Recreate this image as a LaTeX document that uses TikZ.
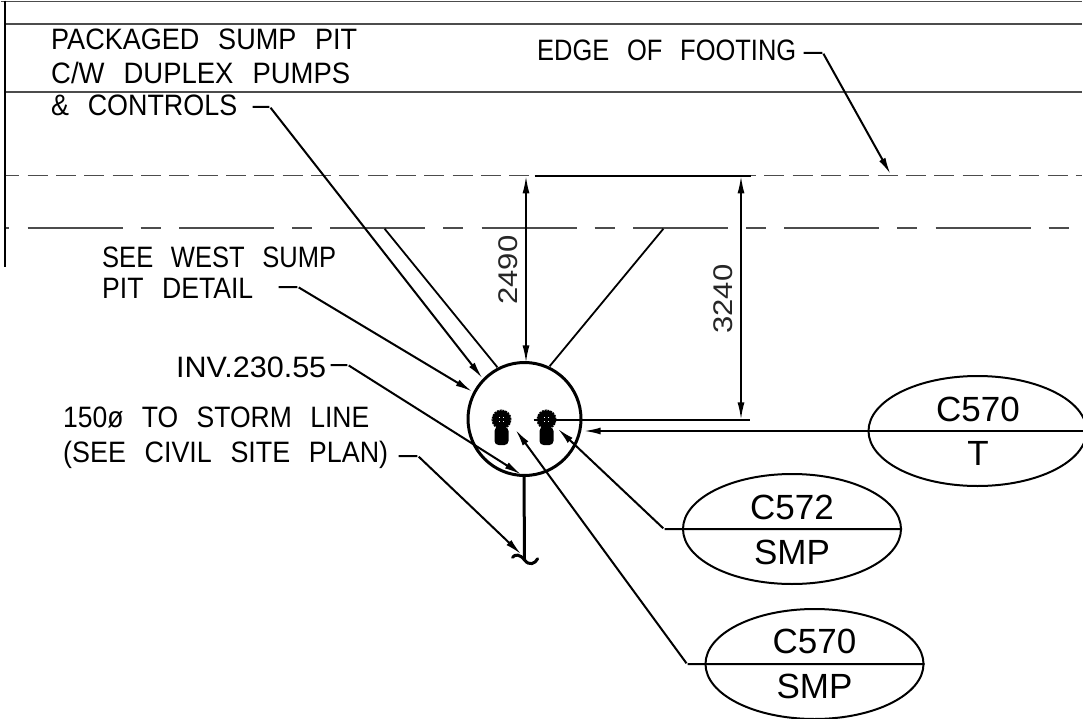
\documentclass[tikz,border=0pt]{standalone}
\usepackage{graphicx}
\usepackage{fontspec}
\setmainfont[FakeStretch=0.92,WordSpace=2.5]{Liberation Sans}
\newfontfamily\tagfont{Liberation Sans}
\newfontfamily\dimfont[FakeStretch=1.15]{Liberation Sans}
\usetikzlibrary{arrows.meta}
\usetikzlibrary{shapes.geometric}
\pgfdeclarelayer{edgelayer}
\pgfdeclarelayer{nodelayer}
\pgfsetlayers{edgelayer,nodelayer,main}
\newcommand{\fitnote}[2]{\resizebox{#1pt}{\height}{#2}}
\tikzstyle{none}=[inner sep=0pt]
\tikzstyle{note}=[inner sep=0pt,anchor=base west,font=\fontsize{29.5}{29.5}\selectfont]
\tikzstyle{tagtext}=[inner sep=0pt,font=\tagfont\fontsize{35}{35}\selectfont]
\tikzstyle{dimtext}=[inner sep=0pt,rotate=90,text=black!85,font=\dimfont\fontsize{27}{27}\selectfont]
\tikzstyle{tag}=[ellipse,draw=black,line width=2pt,inner sep=0pt,minimum width=218pt,minimum height=110pt]
\tikzstyle{grid}=[draw=black!70,line width=1.2pt]
\tikzstyle{topdash}=[draw=black!70,line width=1.2pt,dash pattern=on 20pt off 8.33pt,dash phase=6.33pt]
\tikzstyle{footdash}=[draw=black!70,line width=1.2pt,dash pattern=on 95pt off 18pt on 20pt off 18.33pt,dash phase=129.33pt]
\tikzstyle{extline}=[draw=black,line width=1.3pt]
\tikzstyle{leader}=[draw=black,line width=2pt,-{Latex[length=17pt,width=7pt]}]
\tikzstyle{dimension}=[draw=black,line width=1.5pt,{Latex[length=17pt,width=7pt]}-{Latex[length=17pt,width=7pt]}]
\tikzstyle{pumphead}=[circle,fill=black,draw=black,line width=2pt,dash pattern=on 2pt off 0.8pt,inner sep=0pt,minimum size=18pt]
\tikzstyle{pumpbody}=[rectangle,rounded corners=4pt,fill=black,inner sep=0pt,minimum width=14pt,minimum height=18pt]
\tikzstyle{pumpdot}=[rectangle,fill=white,inner sep=0pt,minimum size=1.6pt]

\begin{document}
\begin{tikzpicture}[x=1pt,y=-1pt]
	\useasboundingbox (0, 0) rectangle (1083, 719);
	\clip (0, 0) rectangle (1083, 719);
	\begin{pgfonlayer}{nodelayer}
		% notes
		\node [style=note] (pit1) at (51, 49.5) {\fitnote{306}{PACKAGED SUMP PIT}};
		\node [style=note] (pit2) at (51, 84) {\fitnote{299}{C/W DUPLEX PUMPS}};
		\node [style=note] (pit3) at (51, 116) {\fitnote{186}{\& CONTROLS}};
		\node [style=note] (edge) at (537, 61) {\fitnote{259}{EDGE OF FOOTING}};
		\node [style=note] (west1) at (102, 267) {\fitnote{234}{SEE WEST SUMP}};
		\node [style=note] (west2) at (102, 298) {\fitnote{151}{PIT DETAIL}};
		\node [style=note] (inv) at (176, 377) {\fitnote{150}{INV.230.55}};
		\node [style=note] (storm1) at (63, 427) {\fitnote{306}{150ø TO STORM LINE}};
		\node [style=note] (storm2) at (63, 462) {\fitnote{325}{(SEE CIVIL SITE PLAN)}};
		\node [style=dimtext] (dim1) at (508, 270) {2490};
		\node [style=dimtext] (dim2) at (723, 299) {3240};
		% tags
		\node [style=tag] (tagT) at (977.5, 431) {};
		\node [style=tag] (tagA) at (792, 529) {};
		\node [style=tag] (tagB) at (814.5, 664) {};
		\node [style=tagtext] (tagT1) at (978, 409) {C570};
		\node [style=tagtext] (tagT2) at (978, 453) {T};
		\node [style=tagtext] (tagA1) at (792, 507) {C572};
		\node [style=tagtext] (tagA2) at (792, 552) {SMP};
		\node [style=tagtext] (tagB1) at (814.5, 641) {C570};
		\node [style=tagtext] (tagB2) at (814.5, 686) {SMP};
		% pit and pumps
		\node [circle,draw=black,line width=3pt,inner sep=0pt,minimum size=113pt] (pit) at (524.5, 419) {};
		\node [style=pumpbody] (bodyL) at (501.5, 436) {};
		\node [style=pumphead] (headL) at (501.5, 419.5) {};
		\node [style=pumpbody] (bodyR) at (546.5, 436) {};
		\node [style=pumphead] (headR) at (546.5, 419.5) {};
		\node [style=pumpdot] (dotLa) at (499.5, 417.5) {};
		\node [style=pumpdot] (dotLb) at (503.5, 417.5) {};
		\node [style=pumpdot] (dotLc) at (499.5, 421.5) {};
		\node [style=pumpdot] (dotLd) at (503.5, 421.5) {};
		\node [style=pumpdot] (dotRa) at (544.5, 417.5) {};
		\node [style=pumpdot] (dotRb) at (548.5, 417.5) {};
		\node [style=pumpdot] (dotRc) at (544.5, 421.5) {};
		\node [style=pumpdot] (dotRd) at (548.5, 421.5) {};
		% line ends
		\node [style=none] (topL) at (0, 1.5) {};
		\node [style=none] (topR) at (1083, 1.5) {};
		\node [style=none] (gridAL) at (5, 24) {};
		\node [style=none] (gridAR) at (1083, 24) {};
		\node [style=none] (gridBL) at (5, 92) {};
		\node [style=none] (gridBR) at (1083, 92) {};
		\node [style=none] (wallT) at (5, 0) {};
		\node [style=none] (wallB) at (5, 268) {};
		\node [style=none] (topdashL) at (5, 175.7) {};
		\node [style=none] (topdashR) at (1083, 175.7) {};
		\node [style=none] (footL) at (5, 228) {};
		\node [style=none] (footR) at (1083, 228) {};
		\node [style=none] (extA) at (534, 175.7) {};
		\node [style=none] (extB) at (752, 175.7) {};
		\node [style=none] (dimA) at (526, 175.7) {};
		\node [style=none] (dimB) at (526, 363) {};
		\node [style=none] (dimC) at (741, 175.7) {};
		\node [style=none] (dimD) at (741, 420) {};
		\node [style=none] (extC) at (533, 420) {};
		\node [style=none] (extD) at (751, 420) {};
		\node [style=none] (slopeA) at (384, 228) {};
		\node [style=none] (slopeB) at (498, 368) {};
		\node [style=none] (slopeC) at (664, 228) {};
		\node [style=none] (slopeD) at (549, 367) {};
		\node [style=none] (pit4) at (252, 107) {};
		\node [style=none] (pit5) at (270, 107) {};
		\node [style=none] (pitTip) at (483, 379) {};
		\node [style=none] (edge1) at (803, 53) {};
		\node [style=none] (edge2) at (823, 53) {};
		\node [style=none] (edgeTip) at (891, 175) {};
		\node [style=none] (west3) at (278, 287) {};
		\node [style=none] (west4) at (298, 287) {};
		\node [style=none] (westTip) at (473, 392) {};
		\node [style=none] (inv1) at (330, 365) {};
		\node [style=none] (inv2) at (348, 365) {};
		\node [style=none] (invTip) at (522, 475) {};
		\node [style=none] (storm3) at (398, 456) {};
		\node [style=none] (storm4) at (418, 456) {};
		\node [style=none] (stormTip) at (522, 555) {};
		\node [style=none] (pipeT) at (524, 476) {};
		\node [style=none] (pipeB) at (524.5, 560) {};
		\node [style=none] (pipeL) at (512, 558) {};
		\node [style=none] (pipeR) at (538, 558) {};
		\node [style=none] (tagTip) at (583, 431) {};
		\node [style=none] (tagAbend) at (664, 529) {};
		\node [style=none] (tagAtip) at (557, 428) {};
		\node [style=none] (tagBbend) at (687, 664) {};
		\node [style=none] (tagBtip) at (515, 429) {};
	\end{pgfonlayer}
	\begin{pgfonlayer}{edgelayer}
		\draw [style=grid] (topL) to (topR);
		\draw [style=grid] (gridAL) to (gridAR);
		\draw [style=grid] (gridBL) to (gridBR);
		\draw [draw=black, line width=2.5pt] (wallT) to (wallB);
		\draw [style=topdash] (topdashL) to (topdashR);
		\draw [style=footdash] (footL) to (footR);
		\draw [draw=black, line width=2pt] (extA) to (extB);
		\draw [style=extline] (extC) to (extD);
		\draw [style=dimension] (dimA) to (dimB);
		\draw [style=dimension] (dimC) to (dimD);
		\draw [draw=black, line width=1.8pt] (slopeA) to (slopeB);
		\draw [draw=black, line width=1.8pt] (slopeC) to (slopeD);
		\draw [style=leader] (pit4) -- (pit5) -- (pitTip);
		\draw [style=leader] (edge1) -- (edge2) -- (edgeTip);
		\draw [style=leader] (west3) -- (west4) -- (westTip);
		\draw [style=leader] (inv1) -- (inv2) -- (invTip);
		\draw [style=leader] (storm3) -- (storm4) -- (stormTip);
		\draw [style=leader] (tagT.east) to (tagTip);
		\draw [style=leader] (tagA.east) -- (tagAbend) -- (tagAtip);
		\draw [style=leader] (tagB.east) -- (tagBbend) -- (tagBtip);
		\draw [draw=black, line width=3pt] (pipeT) to (pipeB);
		\draw [draw=black, line width=3pt, line cap=round] (pipeL) .. controls (515, 554) and (520, 554) .. (524.5, 560) .. controls (529, 566) and (535, 564) .. (pipeR);
	\end{pgfonlayer}
\end{tikzpicture}
\end{document}
